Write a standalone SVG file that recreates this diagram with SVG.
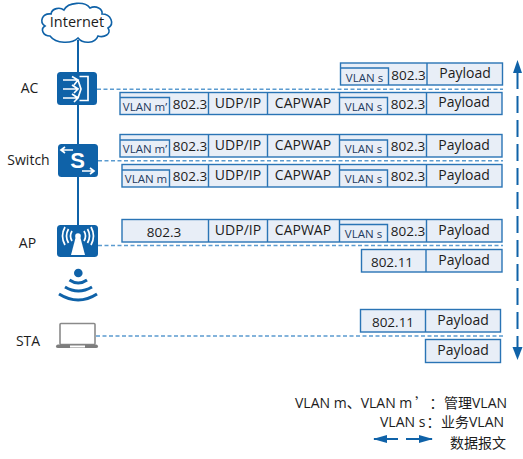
<svg xmlns="http://www.w3.org/2000/svg" width="523" height="459" viewBox="0 0 523 459">
<style>
text{font-family:"Open Sans","Noto Sans","Noto Sans CJK SC",sans-serif;font-size:14px;fill:#1c1c1c;text-anchor:middle}
.v{font-size:11.5px;fill:#1f3a5f}
.n{font-size:13.500px}
.l{font-size:14px;text-anchor:start}
.f{fill:#e8eef7;stroke:#2a74b5;stroke-width:1.4}
.d{stroke:#2a74b5;stroke-width:1.4;fill:none}
.dash{stroke:#5b9bd0;stroke-width:1.4;stroke-dasharray:4 2.5;fill:none}
.ic{fill:#0f62a8}
.w{stroke:#fff;fill:none;stroke-width:1.700}
.wb{stroke:#0f62a8;fill:none;stroke-width:3}
</style>
<defs>
<marker id="al" markerUnits="userSpaceOnUse" markerWidth="14" markerHeight="8" refX="13" refY="4" orient="auto" viewBox="0 0 14 8"><path d="M0 0L14 4L0 8Z" fill="#0f62a8"/></marker>
</defs>
<g id="connectors">
<path d="M78 40V226" stroke="#0f62a8" stroke-width="2" fill="none"/>
<path class="dash" d="M97 89.3H503M98 160.7H503M98 245.500H503M96 336H503"/>
<path d="M517.500 72V348" stroke="#0f62a8" stroke-width="2" stroke-dasharray="17 7" fill="none"/>
<path d="M513 73L517.500 60L522 73Z" fill="#0f62a8"/>
<path d="M512.500 347L517.500 360L522.500 347Z" fill="#0f62a8"/>
</g>
<g id="internet">
<path d="M50 36C43 36 40 29 45 26C39 22 42 13 51 14C52 8 60 7 64 10C68 2 85 1 90 8C96 5 103 9 102 14C111 14 115 24 108 28C112 34 104 38 98 36C95 44 83 44 78 38C72 44 56 44 50 36Z" fill="#fff" stroke="#0f62a8" stroke-width="1.600"/>
<text x="77" y="26.500" style="font-size:14.500px">Internet</text>
</g>
<g id="ac">
<rect x="57" y="72" width="40" height="33" rx="3.500" class="ic"/>
<path class="w" d="M79.500 76.500H88V100.500H79.500M63 80H78M63 89H78M63 98H78M72 76.500L78 80L74 85M72 85L78 89L74 93M72 94L78 98L74 102M78 80L81 89L78 98"/>
<text x="29.500" y="93">AC</text>
</g>
<g id="switch">
<rect x="58" y="144" width="40" height="33" rx="3.500" class="ic"/>
<path class="w" d="M61 150H73M65 147L61 150L65 153M82 171H94M90 168L94 171L90 174"/>
<text x="77.500" y="168" style="font-family:'Liberation Sans',sans-serif;font-size:22px;font-weight:700;fill:#fff">S</text>
<text x="28.500" y="165">Switch</text>
</g>
<g id="ap">
<rect x="57" y="225" width="41" height="32" rx="3.500" class="ic"/>
<path d="M71 255L76 236H80L85 255Z" fill="#fff"/>
<circle cx="78" cy="236" r="2.800" fill="#fff"/>
<path class="w" d="M72 231Q69 236 72 241M84 231Q87 236 84 241M68.500 229Q64.500 236 68.500 243M87.500 229Q91.500 236 87.500 243M65 227Q60 236 65 245M91 227Q96 236 91 245"/>
<text x="27.500" y="248">AP</text>
</g>
<g id="wifi">
<circle cx="78.300" cy="273" r="4.300" class="ic"/>
<path class="wb" d="M69.500 280Q78.300 286 87 280M65 287Q78.300 295 92 287M59 294Q78.300 306 97 294"/>
</g>
<g id="sta">
<rect x="60" y="323.500" width="35" height="21" rx="1" fill="#fff" stroke="#8a8a8a" stroke-width="1.600"/>
<path d="M58 344.500H96Q98 344.500 98 346.500Q98 348 96 348H58Q56 348 56 346.500Q56 344.500 58 344.500Z" fill="#7d7d7d"/>
<rect x="70" y="345.500" width="15" height="2" fill="#fff"/>
<text x="28" y="346">STA</text>
</g>
<g id="packet-1">
<rect x="340.500" y="63" width="162" height="22" class="f"/>
<path class="d" d="M340.500 68H388.500V85M427 63V85"/>
<text class="v" x="364.500" y="81.500">VLAN s</text><text class="n" x="408.500" y="80">802.3</text><text x="465" y="77.500">Payload</text>
</g>
<g id="packet-2">
<rect x="120" y="92.500" width="382" height="22" class="f"/>
<path class="d" d="M120 97.500H169.500V114.500M208.500 92.500V114.500M267.500 92.500V114.500M339.500 92.500V114.500M426.500 92.500V114.500M339.500 97.500H387.500V114.500"/>
<text class="v" x="145" y="111">VLAN m’</text><text class="n" x="190" y="109">802.3</text><text x="238" y="107.500">UDP/IP</text><text x="303" y="107.500">CAPWAP</text>
<text class="v" x="363.500" y="111">VLAN s</text><text class="n" x="408" y="109">802.3</text><text x="464" y="107">Payload</text>
</g>
<g id="packet-3">
<rect x="120" y="134.500" width="382" height="22.500" class="f"/>
<path class="d" d="M120 140H169.500V157M208.500 134.500V157M267.500 134.500V157M339.500 134.500V157M426.500 134.500V157M339.500 140H387.500V157"/>
<text class="v" x="145" y="153">VLAN m’</text><text class="n" x="190" y="151">802.3</text><text x="238" y="149.500">UDP/IP</text><text x="303" y="149.500">CAPWAP</text>
<text class="v" x="363.500" y="153">VLAN s</text><text class="n" x="408" y="151">802.3</text><text x="464" y="149.500">Payload</text>
</g>
<g id="packet-4">
<rect x="122" y="164.500" width="380" height="22.500" class="f"/>
<path class="d" d="M122 170H169.500V187M208.500 164.500V187M267.500 164.500V187M339.500 164.500V187M426.500 164.500V187M339.500 170H387.500V187"/>
<text class="v" x="146" y="183">VLAN m</text><text class="n" x="190" y="181">802.3</text><text x="238" y="179.500">UDP/IP</text><text x="303" y="179.500">CAPWAP</text>
<text class="v" x="363.500" y="183">VLAN s</text><text class="n" x="408" y="181">802.3</text><text x="464" y="179.500">Payload</text>
</g>
<g id="packet-5">
<rect x="122" y="219.500" width="380" height="22.500" class="f"/>
<path class="d" d="M208.500 219.500V242M267.500 219.500V242M339.500 219.500V242M426.500 219.500V242M339.500 224.500H387.500V242"/>
<text class="n" x="164" y="237">802.3</text><text x="238" y="235">UDP/IP</text><text x="303" y="235">CAPWAP</text>
<text class="v" x="363.500" y="238">VLAN s</text><text class="n" x="408" y="236">802.3</text><text x="464" y="234.500">Payload</text>
</g>
<g id="packet-6">
<rect x="361.500" y="249.500" width="140.500" height="22.500" class="f"/>
<path class="d" d="M426 249.500V272"/>
<text class="n" x="392" y="267">802.11</text><text x="464" y="264.500">Payload</text>
</g>
<g id="packet-7">
<rect x="360.500" y="309.500" width="140" height="22.500" class="f"/>
<path class="d" d="M425.500 309.500V332"/>
<text class="n" x="393" y="327">802.11</text><text x="463" y="324.500">Payload</text>
</g>
<g id="packet-8">
<rect x="425.500" y="339.500" width="75" height="23" class="f"/>
<text x="463" y="354.500">Payload</text>
</g>
<g id="legend">
<text class="l" y="407.500"><tspan x="295">VLAN m、VLAN m</tspan><tspan x="415" style="font-family:'Noto Sans CJK SC',sans-serif">’</tspan><tspan x="429.500">：</tspan><tspan x="444">管理VLAN</tspan></text>
<text class="l" y="427"><tspan x="380">VLAN s</tspan><tspan x="426.500">：</tspan><tspan x="441">业务VLAN</tspan></text>
<path d="M398 439H374" stroke="#0f62a8" stroke-width="2" marker-end="url(#al)"/>
<path d="M406 439H432" stroke="#0f62a8" stroke-width="2" marker-end="url(#al)"/>
<text class="l" x="450" y="448">数据报文</text>
</g>
</svg>
